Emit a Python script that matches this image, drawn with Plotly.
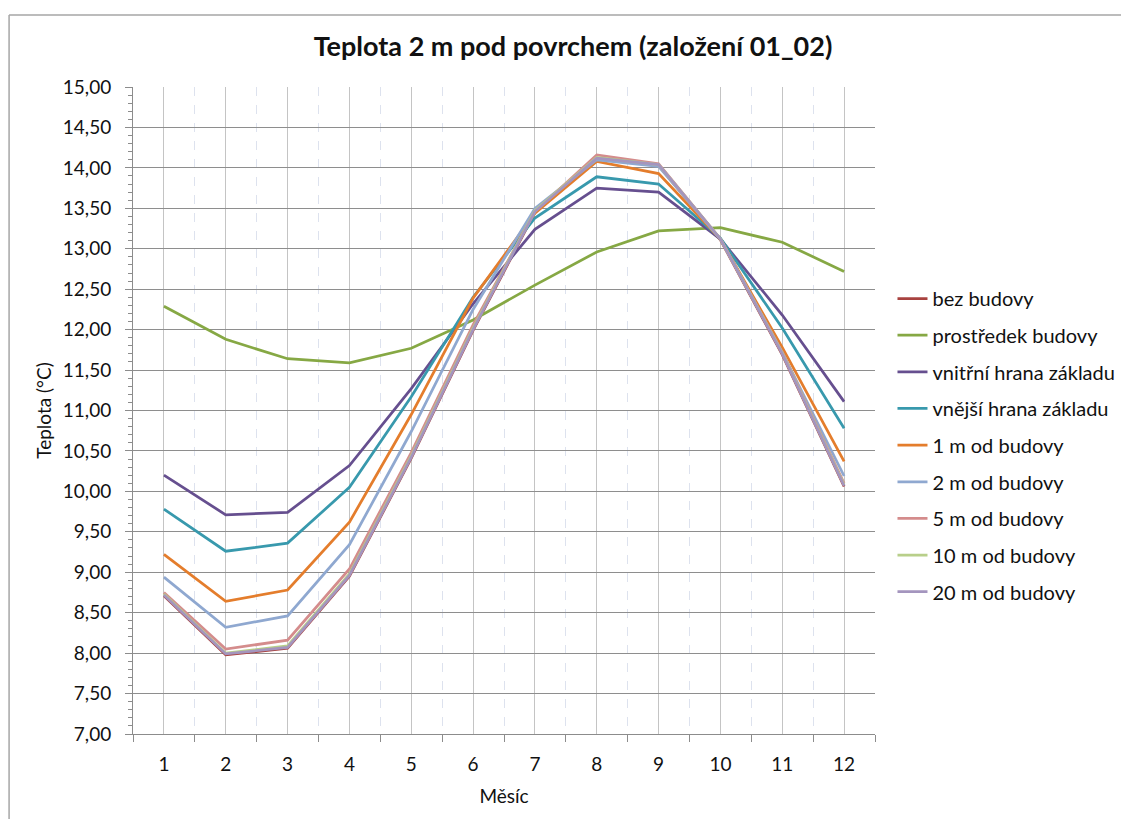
import plotly.graph_objects as go

months = [1, 2, 3, 4, 5, 6, 7, 8, 9, 10, 11, 12]

names = ["bez budovy", "prostředek budovy", "vnitřní hrana základu", "vnější hrana základu",
         "1 m od budovy", "2 m od budovy", "5 m od budovy", "10 m od budovy", "20 m od budovy"]

bez_budovy = [8.71, 7.98, 8.06, 8.95, 10.41, 11.99, 13.45, 14.12, 14.03, 13.11, 11.69, 10.06]
prostredek = [12.29, 11.88, 11.64, 11.59, 11.77, 12.12, 12.55, 12.96, 13.22, 13.26, 13.08, 12.72]
vnitrni = [10.20, 9.71, 9.74, 10.32, 11.27, 12.32, 13.24, 13.75, 13.70, 13.12, 12.18, 11.11]
vnejsi = [9.78, 9.26, 9.36, 10.05, 11.17, 12.40, 13.38, 13.89, 13.80, 13.13, 12.02, 10.78]
m1 = [9.22, 8.64, 8.78, 9.62, 10.95, 12.39, 13.44, 14.08, 13.93, 13.12, 11.78, 10.37]
m2 = [8.94, 8.32, 8.46, 9.34, 10.74, 12.25, 13.50, 14.10, 14.02, 13.12, 11.72, 10.19]
m5 = [8.75, 8.05, 8.16, 9.04, 10.48, 12.06, 13.46, 14.16, 14.05, 13.12, 11.72, 10.10]
m10 = [8.73, 8.00, 8.09, 8.98, 10.44, 12.02, 13.47, 14.13, 14.04, 13.12, 11.71, 10.08]
m20 = [8.72, 7.99, 8.07, 8.96, 10.42, 12.00, 13.46, 14.12, 14.04, 13.12, 11.70, 10.07]

series = [bez_budovy, prostredek, vnitrni, vnejsi, m1, m2, m5, m10, m20]
colors = ["#A8423F", "#86A844", "#664F8F", "#3899AD", "#E47D2C",
          "#8FA8D0", "#D48C8C", "#B8CF8A", "#A495BE"]

FONT = "Lato, Carlito, Calibri, sans-serif"

fig = go.Figure()
for i, (n, s, c) in enumerate(zip(names, series, colors)):
    fig.add_trace(go.Scatter(x=months, y=s, name=n, mode="lines",
                             line=dict(color=c, width=2.75), legendgroup=f"g{i}"))

# page offset of the figure inside the html body
OFF = 8
FW, FH = 1129, 819
# plot area in page pixels
PL, PR, PT, PB = 133, 875.5, 87, 734
L = PL - OFF
T = PT - OFF
R = FW - (PR - OFF)
B = FH - (PB - OFF)
W = FW - L - R
H = FH - T - B


def px(xp):  # page pixel x -> paper
    return (xp - PL) / W


def py(yp):  # page pixel y -> paper
    return (PB - yp) / H


fig.update_layout(
    width=FW, height=FH,
    margin=dict(l=L, r=R, t=T, b=B, autoexpand=False),
    paper_bgcolor="white", plot_bgcolor="white",
    separators=",.",
    font=dict(family=FONT, color="#222222", size=19),
    title=dict(text="<b>Teplota 2 m pod povrchem (založení 01_02)</b>",
               x=(573 - OFF) / FW, xref="container", xanchor="center",
               y=1 - (47 - OFF) / FH, yref="container", yanchor="middle",
               font=dict(family=FONT, size=27, color="#111111")),
    showlegend=True,
    legend=dict(x=px(893), xanchor="left", y=py(279), yanchor="top",
                font=dict(family=FONT, size=20, color="#111111"),
                tracegroupgap=7.65, bgcolor="rgba(0,0,0,0)"),
    xaxis=dict(range=[0.5, 12.5], tickmode="array", tickvals=months,
               ticktext=[str(m) for m in months], ticks="",
               showgrid=True, gridcolor="#C4C4C4", gridwidth=1,
               showline=True, linecolor="#8C8C8C", linewidth=1,
               zeroline=False, ticklabelstandoff=13,
               tickfont=dict(size=19, color="#111111"),
               minor=dict(tick0=0.5, dtick=1, ticks="outside", ticklen=7,
                          tickcolor="#8C8C8C", showgrid=True,
                          gridcolor="#DDE2EE", griddash="dash", gridwidth=1),
               title=dict(text="Měsíc", standoff=15,
                          font=dict(size=19, color="#111111"))),
    yaxis=dict(range=[7, 15], dtick=0.5, tick0=7, tickformat=".2f",
               ticks="outside", ticklen=7, tickcolor="#8C8C8C",
               showgrid=True, gridcolor="#8E8E8E", gridwidth=1,
               showline=True, linecolor="#8C8C8C", linewidth=1,
               zeroline=False, ticklabelstandoff=10,
               tickfont=dict(size=19, color="#111111"),
               minor=dict(dtick=0.1, ticks="outside", ticklen=4,
                          tickcolor="#8C8C8C", showgrid=False),
               title=dict(text="Teplota (°C)", standoff=6,
                          font=dict(size=19, color="#111111"))),
    shapes=[
        dict(type="line", xref="paper", yref="paper",
             x0=px(9), x1=px(1140), y0=py(15), y1=py(15),
             line=dict(color="#A6A6A6", width=1.5)),
        dict(type="line", xref="paper", yref="paper",
             x0=px(9), x1=px(9), y0=py(15), y1=py(830),
             line=dict(color="#A6A6A6", width=1.5)),
    ],
)

fig.write_html("out.html")
